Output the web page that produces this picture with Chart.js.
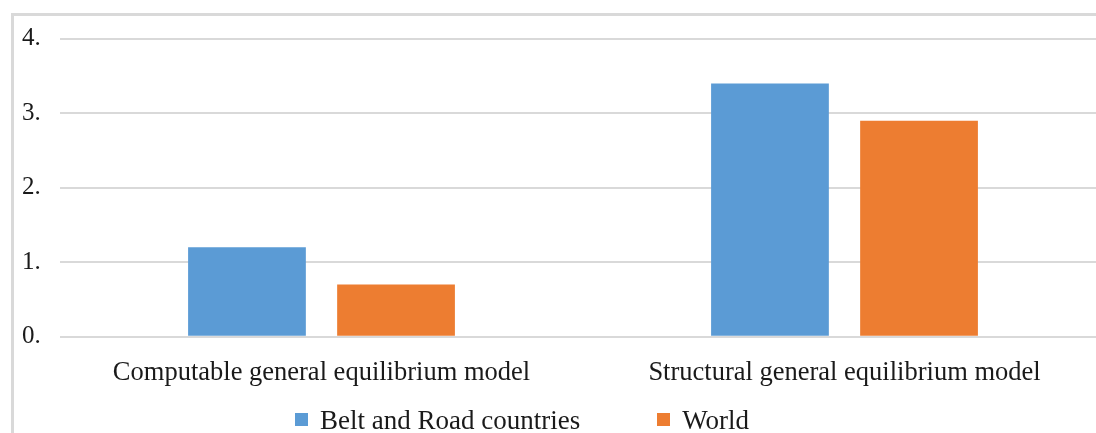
<!DOCTYPE html>
<html>
<head>
<meta charset="utf-8">
<script src="https://cdn.jsdelivr.net/npm/chart.js@4/dist/chart.umd.min.js"></script>
<style>
    html, body { margin: 0; padding: 0; background: #fff; overflow: hidden; width: 1096px; height: 433px; }
    #frame {
        position: absolute; left: 11px; top: 13px;
        width: 1120px; height: 480px;
        border: 3px solid #d9d9d9;
        background: #fff;
    }
    #chartBox { position: absolute; left: 0; top: 0; width: 1110px; height: 400px; }
    #legend {
        position: absolute; left: 281px; top: 389px;
        display: flex; gap: 77px; align-items: center;
        font-family: 'Liberation Serif', serif; font-size: 27px; color: #1a1a1a;
    }
    .item { display: flex; align-items: center; gap: 12px; white-space: nowrap; }
    .swatch { width: 13px; height: 13px; display: inline-block; margin-top: -2px; }
</style>
</head>
<body>
<div id="frame">
    <div id="chartBox"><canvas id="chartModels"></canvas></div>
    <div id="legend"></div>
</div>
<script>
    // Categorías y valores de cada serie
    const categorias = ['Computable general equilibrium model', 'Structural general equilibrium model'];
    const beltRoad = [1.2, 3.4];
    const mundo = [0.7, 2.9];
    const nombresSeries = ['Belt and Road countries', 'World'];
    const ticksY = [0, 1, 2, 3, 4];

    Chart.defaults.font.family = "'Liberation Serif', serif";
    Chart.defaults.color = '#1a1a1a';

    // Leyenda en HTML (para controlar la separación entre elementos)
    const htmlLegend = {
        id: 'htmlLegend',
        afterUpdate(chart) {
            const box = document.getElementById('legend');
            box.innerHTML = '';
            chart.data.datasets.forEach(ds => {
                const item = document.createElement('span');
                item.className = 'item';
                const sw = document.createElement('span');
                sw.className = 'swatch';
                sw.style.background = ds.backgroundColor;
                const txt = document.createElement('span');
                txt.textContent = ds.label;
                item.append(sw, txt);
                box.appendChild(item);
            });
        }
    };

    const ctx = document.getElementById('chartModels').getContext('2d');
    new Chart(ctx, {
        type: 'bar',
        data: {
            labels: categorias,
            datasets: [
                { label: nombresSeries[0], data: beltRoad, backgroundColor: '#5b9bd5' },
                { label: nombresSeries[1], data: mundo, backgroundColor: '#ed7d31' }
            ]
        },
        options: {
            responsive: true,
            maintainAspectRatio: false,
            animation: false,
            layout: { padding: { left: 8, right: 18, top: 22.7, bottom: 0 } },
            datasets: { bar: { categoryPercentage: 0.57, barPercentage: 0.79 } },
            scales: {
                x: {
                    grid: { display: false },
                    border: { display: false },
                    ticks: { font: { size: 26.5 }, padding: 12, maxRotation: 0 },
                    afterFit: s => { s.height = 79.3; }
                },
                y: {
                    min: ticksY[0],
                    max: ticksY[ticksY.length - 1],
                    afterBuildTicks: s => { s.ticks = ticksY.map(v => ({ value: v })); },
                    grid: { color: '#d9d9d9', lineWidth: 2, drawTicks: false },
                    border: { display: false },
                    ticks: { font: { size: 25 }, crossAlign: 'far', callback: v => v + '.' },
                    afterFit: s => { s.width = 38; }
                }
            },
            plugins: {
                legend: { display: false },
                tooltip: { enabled: false }
            }
        },
        plugins: [htmlLegend]
    });
</script>
</body>
</html>
